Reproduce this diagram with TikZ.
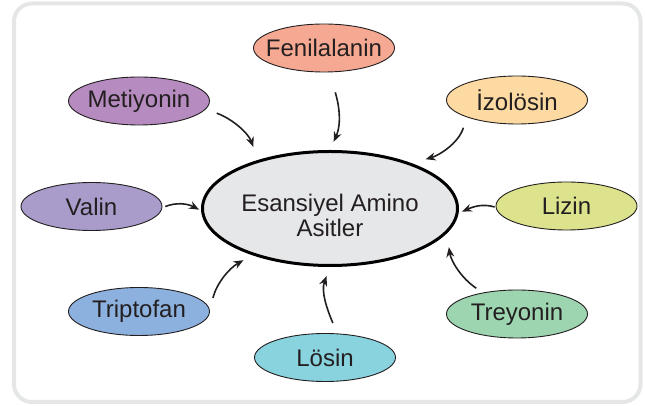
\documentclass[tikz,border=0pt]{standalone}
\usepackage{fontspec}
\setmainfont{Liberation Sans}
\usetikzlibrary{shapes.geometric,arrows.meta}
\definecolor{framegray}{RGB}{229,230,231}
\definecolor{ink}{RGB}{35,31,32}
\definecolor{corefill}{RGB}{230,231,233}
\definecolor{fenilc}{RGB}{245,169,146}
\definecolor{metic}{RGB}{182,139,192}
\definecolor{izoc}{RGB}{253,218,161}
\definecolor{valc}{RGB}{169,156,203}
\definecolor{lizc}{RGB}{221,227,141}
\definecolor{tripc}{RGB}{141,177,223}
\definecolor{losc}{RGB}{137,211,223}
\definecolor{treyc}{RGB}{157,213,176}
\tikzset{acid/.style={ellipse,draw=ink,line width=0.9pt,fill=#1,minimum width=141pt,minimum height=48pt,inner sep=-9pt,text=ink,font=\fontsize{24}{25}\selectfont},
  core/.style={ellipse,draw=black,line width=3pt,fill=corefill,minimum width=255pt,minimum height=114pt,inner sep=0pt},
  feed/.style={-{Stealth[length=10pt,width=8pt]},line width=1.6pt,draw=ink}}

\begin{document}
\begin{tikzpicture}[x=1pt,y=1pt]
                \useasboundingbox (0,0) rectangle (645,406);
                \draw[framegray,line width=4pt,rounded corners=18pt] (14,4) rectangle (640.5,402.5);
                \node[core] (c) at (330,197.5) {};
                \node[align=center,text=ink,font=\fontsize{24}{25}\selectfont] (ctext) at ([yshift=-7pt]c) {Esansiyel Amino\\Asitler};
                \node[acid=fenilc] (fen) at (324,358) {Fenilalanin};
                \node[acid=metic] (met) at (139,305) {Metiyonin};
                \node[acid=izoc] (izo) at (517,306) {İzolösin};
                \node[acid=valc] (val) at (91.5,199.5) {Valin};
                \node[acid=lizc] (liz) at (566.5,200) {Lizin};
                \node[acid=tripc] (tri) at (139,94.5) {Triptofan};
                \node[acid=losc] (los) at (325,48.5) {Lösin};
                \node[acid=treyc] (tre) at (517,92) {Treyonin};
                \draw[feed,shorten <=11.6pt,shorten >=13.8pt] (met.-7) to[out=-20,in=110] (c.146);
                \draw[feed,shorten <=21pt,shorten >=9pt] (fen.-79) to[out=-72,in=66] (c.90);
                \draw[feed,shorten <=11pt,shorten >=14.5pt] (izo.-161) to[out=-108,in=16] (c.29);
                \draw[feed,shorten <=1pt,shorten >=3.6pt] (liz.181) to[out=164,in=23] (c.-2);
                \draw[feed,shorten <=3.2pt,shorten >=2.3pt] (val.-1) to[out=22,in=152] (c.181);
                \draw[feed,shorten <=12.7pt,shorten >=10.1pt] (tri.1) to[out=76,in=-150.5] (c.-149.3);
                \draw[feed,shorten <=11.3pt,shorten >=9.6pt] (los.63) to[out=113,in=-110.6] (c.-90.6);
                \draw[feed,shorten <=7.8pt,shorten >=14pt] (tre.148.7) to[out=146,in=-81.5] (c.-12.5);
            \end{tikzpicture}
\end{document}
